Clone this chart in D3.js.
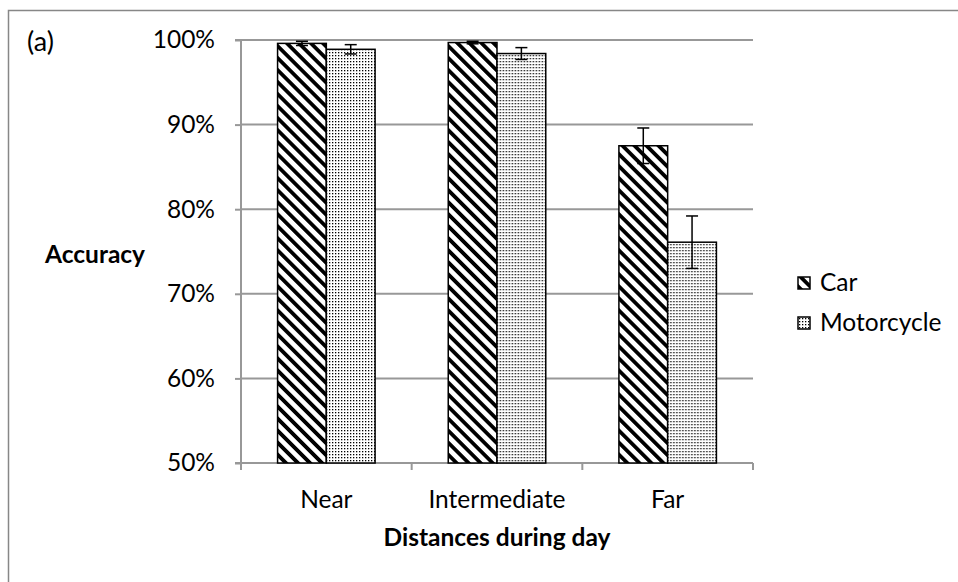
<!DOCTYPE html>
<html><head><meta charset="utf-8">
<script src="https://cdn.jsdelivr.net/npm/d3@7"></script>
<style>body{margin:0;background:#fff}svg{display:block}text{font-family:Lato,"Open Sans",sans-serif;fill:#000}</style>
</head><body>
<svg id="c" width="958" height="582"></svg>
<script>
const categories = ["Near", "Intermediate", "Far"];
const seriesNames = ["Car", "Motorcycle"];
const carValues = [99.6, 99.7, 87.5];
const motoValues = [98.9, 98.4, 76.1];
const carErrors = [0.25, 0.15, 2.1];
const motoErrors = [0.55, 0.7, 3.1];
const yTicks = [50, 60, 70, 80, 90, 100];

(function(){
const FS = 24.5;
const svg = d3.select("#c");
const defs = svg.append("defs");
const ps = defs.append("pattern").attr("id","stripes").attr("patternUnits","userSpaceOnUse")
  .attr("width",8.5).attr("height",8.5).attr("patternTransform","rotate(-45)");
ps.append("rect").attr("width",8.5).attr("height",8.5).attr("fill","#fff");
ps.append("rect").attr("x",0).attr("y",0).attr("width",3.8).attr("height",8.5).attr("fill","#000");
const pd = defs.append("pattern").attr("id","dots").attr("patternUnits","userSpaceOnUse")
  .attr("width",3).attr("height",3);
pd.append("rect").attr("width",3).attr("height",3).attr("fill","#fff");
pd.append("rect").attr("x",1).attr("y",1).attr("width",1.3).attr("height",1.3).attr("fill","#000");

svg.append("rect").attr("x",8.5).attr("y",10.5).attr("width",960).attr("height",600)
  .attr("fill","none").attr("stroke","#878787").attr("stroke-width",1.5);

const pL = 241, pR = 753, pT = 40, pB = 463;
const x0 = d3.scaleBand().domain(categories).range([pL, pR]).paddingInner(0).paddingOuter(0);
const x1 = d3.scaleBand().domain(seriesNames).range([0, x0.bandwidth()]).paddingInner(0).paddingOuter(0.75);
const y = d3.scaleLinear().domain([50, 100]).range([pB, pT]);

svg.append("g").selectAll("line").data(yTicks.filter(t=>t>50)).join("line")
  .attr("x1",pL).attr("x2",pR).attr("y1",d=>y(d)).attr("y2",d=>y(d))
  .attr("stroke","#989898").attr("stroke-width",2);

const yAxis = svg.append("g").attr("transform",`translate(${pL},0)`)
  .call(d3.axisLeft(y).tickValues(yTicks).tickFormat(d=>d+"%").tickSize(6).tickPadding(20));
yAxis.select(".domain").attr("stroke","#989898").attr("stroke-width",2).attr("d",`M-6,${pT}H0V${pB}H-6`);
yAxis.selectAll(".tick line").attr("stroke","#989898").attr("stroke-width",2);
yAxis.selectAll(".tick text").attr("font-size",FS).attr("font-family","Lato,sans-serif");

const xAxis = svg.append("g").attr("transform",`translate(0,${pB})`)
  .call(d3.axisBottom(x0).tickSize(0).tickPadding(28));
xAxis.select(".domain").attr("stroke","#989898").attr("stroke-width",2).attr("d",`M${pL},0H${pR}`);
xAxis.selectAll(".tick text").attr("font-size",FS).attr("font-family","Lato,sans-serif");
const bounds = [pL].concat(categories.map(c=>x0(c)+x0.bandwidth()));
svg.append("g").selectAll("line").data(bounds).join("line")
  .attr("x1",d=>d).attr("x2",d=>d).attr("y1",pB).attr("y2",pB+7)
  .attr("stroke","#989898").attr("stroke-width",2);

const data = categories.map((c,i)=>({c, vals:[
  {s:"Car", v:carValues[i], e:carErrors[i], fill:"url(#stripes)"},
  {s:"Motorcycle", v:motoValues[i], e:motoErrors[i], fill:"url(#dots)"}]}));
const g = svg.append("g").selectAll("g").data(data).join("g")
  .attr("transform",d=>`translate(${x0(d.c)},0)`);
g.selectAll("rect").data(d=>d.vals).join("rect")
  .attr("x",d=>x1(d.s)).attr("width",x1.bandwidth())
  .attr("y",d=>y(d.v)).attr("height",d=>y(50)-y(d.v))
  .attr("fill",d=>d.fill).attr("stroke","#000").attr("stroke-width",1.5);
const eb = g.selectAll("g.err").data(d=>d.vals).join("g").attr("class","err");
const cx = d=>x1(d.s)+x1.bandwidth()/2;
eb.append("line").attr("x1",cx).attr("x2",cx)
  .attr("y1",d=>y(d.v-d.e)).attr("y2",d=>y(d.v+d.e)).attr("stroke","#000").attr("stroke-width",1.5);
eb.append("line").attr("x1",d=>cx(d)-6).attr("x2",d=>cx(d)+6)
  .attr("y1",d=>y(d.v+d.e)).attr("y2",d=>y(d.v+d.e)).attr("stroke","#000").attr("stroke-width",1.5);
eb.append("line").attr("x1",d=>cx(d)-6).attr("x2",d=>cx(d)+6)
  .attr("y1",d=>y(d.v-d.e)).attr("y2",d=>y(d.v-d.e)).attr("stroke","#000").attr("stroke-width",1.5);

svg.append("text").attr("x",27).attr("y",51).attr("font-size",27).text("(a)");
svg.append("text").attr("x",45).attr("y",263).attr("font-size",FS).attr("font-weight","bold").text("Accuracy");
svg.append("text").attr("x",(pL+pR)/2).attr("y",546).attr("text-anchor","middle")
  .attr("font-size",FS).attr("font-weight","bold").text("Distances during day");

const legend = svg.append("g").selectAll("g").data(seriesNames).join("g")
  .attr("transform",(d,i)=>`translate(798,${277+i*40})`);
legend.append("rect").attr("x",0).attr("y",0).attr("width",12).attr("height",12)
  .attr("fill",(d,i)=>i===0?"url(#stripes)":"url(#dots)").attr("stroke","#000").attr("stroke-width",1.5);
legend.append("text").attr("x",22).attr("y",14).attr("font-size",FS).text(d=>d);
})();
</script>
</body></html>
